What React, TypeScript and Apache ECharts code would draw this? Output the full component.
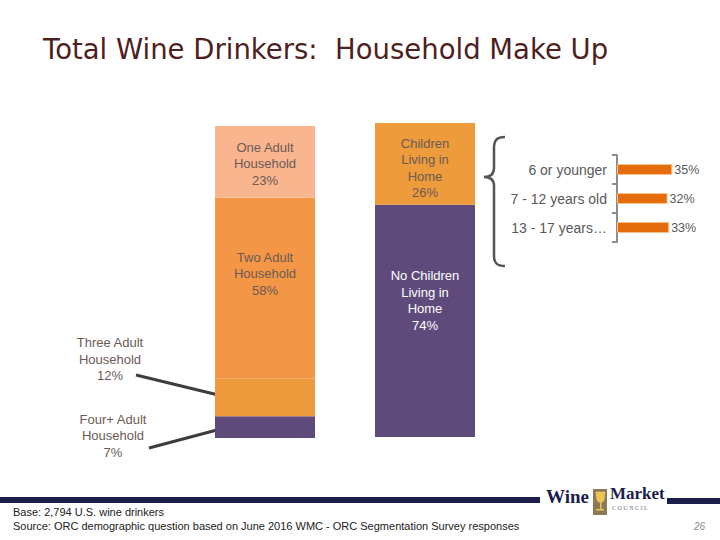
import React, { useEffect, useRef } from "react";
import * as echarts from "echarts";

// ---- data ----
const householdNames = ["Four+ Adult Household", "Three Adult Household", "Two Adult Household", "One Adult Household"];
const householdValues = [7, 12, 58, 23];
const childrenNames = ["No Children Living in Home", "Children Living in Home"];
const childrenValues = [74, 26];
const ageCategories = ["6 or younger", "7 - 12 years old", "13 - 17 years…"];
const ageValues = [35, 32, 33];

const FONT = "'Liberation Sans', Arial, sans-serif";
const labelGrey = "#6b5a55";

const bracePath =
  "M 505 137 C 497 137 494 140 494 148 L 494 168 C 494 174 490 177 484 177 C 490 177 494 180 494 186 L 494 256 C 494 263 497 266 505 266";
echarts.graphic.registerShape("brace", echarts.graphic.extendPath(bracePath, {}));
const glassPath = "M 596 492 L 605 492 L 604 500 C 603 503 598 503 597 500 Z";
echarts.graphic.registerShape("glass", echarts.graphic.extendPath(glassPath, {}));

function splitLabel(name: string, v: number) {
  const words = name.split(" ");
  if (name.startsWith("No Children")) return `No Children\nLiving in\nHome\n${v}%`;
  if (name.startsWith("Children")) return `Children\nLiving in\nHome\n${v}%`;
  return `${words[0]} ${words[1]}\n${words[2]}\n${v}%`;
}

export default function App() {
  const ref = useRef<HTMLDivElement>(null);
  useEffect(() => {
    if (!ref.current) return;
    const chart = echarts.init(ref.current, null, { renderer: "svg" });

    const hhColors = ["#5e4a7b", "#ec9a3c", "#f39645", "#f8b58e"];
    const hhLabels: any[] = [
      { position: [-102, -5], align: "center", verticalAlign: "top", color: labelGrey },
      { position: [-105, -44], align: "center", verticalAlign: "top", color: labelGrey },
      { position: "insideTop", distance: 51, color: labelGrey },
      { position: "insideTop", distance: 13, color: labelGrey },
    ];

    const hhSeries = householdNames.map((n, i) => ({
      type: "bar",
      name: n,
      stack: "hh",
      xAxisIndex: 0,
      yAxisIndex: 0,
      barWidth: "100%",
      data: [householdValues[i]],
      itemStyle: { color: hhColors[i] },
      label: {
        show: true,
        formatter: () => splitLabel(n, householdValues[i]),
        fontFamily: FONT,
        fontSize: 13,
        lineHeight: 16.5,
        ...hhLabels[i],
      },
    }));

    const chColors = ["#5e4a7b", "#ee9b3c"];
    const chLabels: any[] = [
      { position: "insideTop", distance: 63, color: "#ffffff" },
      { position: "inside", offset: [0, 4], color: labelGrey },
    ];
    const chSeries = childrenNames.map((n, i) => ({
      type: "bar",
      name: n,
      stack: "ch",
      xAxisIndex: 1,
      yAxisIndex: 1,
      barWidth: "100%",
      data: [childrenValues[i]],
      itemStyle: { color: chColors[i] },
      label: {
        show: true,
        formatter: () => splitLabel(n, childrenValues[i]),
        fontFamily: FONT,
        fontSize: 13,
        lineHeight: 16.5,
        ...chLabels[i],
      },
    }));

    const option: any = {
      animation: false,
      backgroundColor: "#ffffff",
      title: {
        text: "Total Wine Drinkers:  Household Make Up",
        left: 43,
        top: 35,
        padding: 0,
        textStyle: { fontFamily: "'DejaVu Sans', sans-serif", fontSize: 27.5, fontWeight: "normal", color: "#4e1f1f" },
      },
      grid: [
        { left: 215, top: 126, width: 100, height: 312 },
        { left: 375, top: 123, width: 100, height: 314 },
        { left: 617, top: 155, width: 79, height: 87 },
      ],
      xAxis: [
        { type: "category", gridIndex: 0, data: ["Household"], show: false },
        { type: "category", gridIndex: 1, data: ["Children"], show: false },
        { type: "value", gridIndex: 2, min: 0, max: 50, show: false },
      ],
      yAxis: [
        { type: "value", gridIndex: 0, min: 0, max: 100, show: false },
        { type: "value", gridIndex: 1, min: 0, max: 100, show: false },
        {
          type: "category",
          gridIndex: 2,
          data: ageCategories,
          inverse: true,
          axisLine: { show: true, lineStyle: { color: "#8c8c8c", width: 2 } },
          axisTick: { show: true, length: 5, lineStyle: { color: "#8c8c8c", width: 2 } },
          axisLabel: { fontFamily: FONT, fontSize: 14, color: "#595959", margin: 10 },
          splitLine: { show: false },
        },
      ],
      series: [
        ...hhSeries,
        ...chSeries,
        {
          type: "bar",
          xAxisIndex: 2,
          yAxisIndex: 2,
          barWidth: 11,
          data: ageValues,
          itemStyle: { color: "#e46c0a", borderColor: "#f7c08a", borderWidth: 1 },
          label: {
            show: true,
            position: "right",
            distance: 2,
            formatter: "{c}%",
            fontFamily: FONT,
            fontSize: 12.5,
            color: "#595959",
          },
        },
      ],
      graphic: [
        { type: "line", shape: { x1: 136, y1: 375, x2: 243, y2: 401 }, style: { stroke: "#3d3d3d", lineWidth: 3 } },
        { type: "line", shape: { x1: 149, y1: 448, x2: 232, y2: 426 }, style: { stroke: "#3d3d3d", lineWidth: 3 } },
        { type: "brace", x: 0, y: 0, style: { fill: "none", stroke: "#555555", lineWidth: 2.5 } },
        // footer rules
        { type: "rect", shape: { x: 0, y: 497, width: 540, height: 6 }, style: { fill: "#1d1d4b" } },
        { type: "rect", shape: { x: 667, y: 498, width: 53, height: 6 }, style: { fill: "#1d1d4b" } },
        // logo
        {
          type: "text",
          x: 546,
          y: 506,
          style: { text: "Wine", font: "bold 19px 'Liberation Serif', serif", fill: "#1d1d4b", textVerticalAlign: "bottom" },
        },
        { type: "rect", shape: { x: 593, y: 489, width: 14, height: 26 }, style: { fill: "#8b7a55" } },
        { type: "glass", x: 0, y: 0, style: { fill: "#f0c24e", stroke: "#f6dc8c", lineWidth: 0.5 } },
        { type: "rect", shape: { x: 600, y: 502, width: 1.5, height: 8 }, style: { fill: "#f0c24e" } },
        { type: "rect", shape: { x: 596, y: 509, width: 8, height: 1.5 }, style: { fill: "#f0c24e" } },
        {
          type: "text",
          x: 610,
          y: 502,
          style: { text: "Market", font: "bold 17px 'Liberation Serif', serif", fill: "#1d1d4b", textVerticalAlign: "bottom" },
        },
        {
          type: "text",
          x: 612,
          y: 505,
          style: { text: "C O U N C I L", font: "6px 'Liberation Serif', serif", fill: "#6b6b80", textVerticalAlign: "top" },
        },
        // footer texts
        {
          type: "text",
          x: 13,
          y: 512,
          style: { text: "Base: 2,794 U.S. wine drinkers", font: `11px ${FONT}`, fill: "#222222", textVerticalAlign: "middle" },
        },
        {
          type: "text",
          x: 13,
          y: 526,
          style: {
            text: "Source: ORC demographic question based on June 2016 WMC - ORC Segmentation Survey responses",
            font: `11px ${FONT}`,
            fill: "#222222",
            textVerticalAlign: "middle",
          },
        },
        {
          type: "text",
          x: 705,
          y: 526,
          style: { text: "26", font: `italic 10px ${FONT}`, fill: "#8a8a8a", textAlign: "right", textVerticalAlign: "middle" },
        },
      ],
    };
    chart.setOption(option);
    return () => chart.dispose();
  }, []);
  return <div ref={ref} style={{ position: "fixed", left: 0, top: 0, width: 720, height: 540 }} />;
}
